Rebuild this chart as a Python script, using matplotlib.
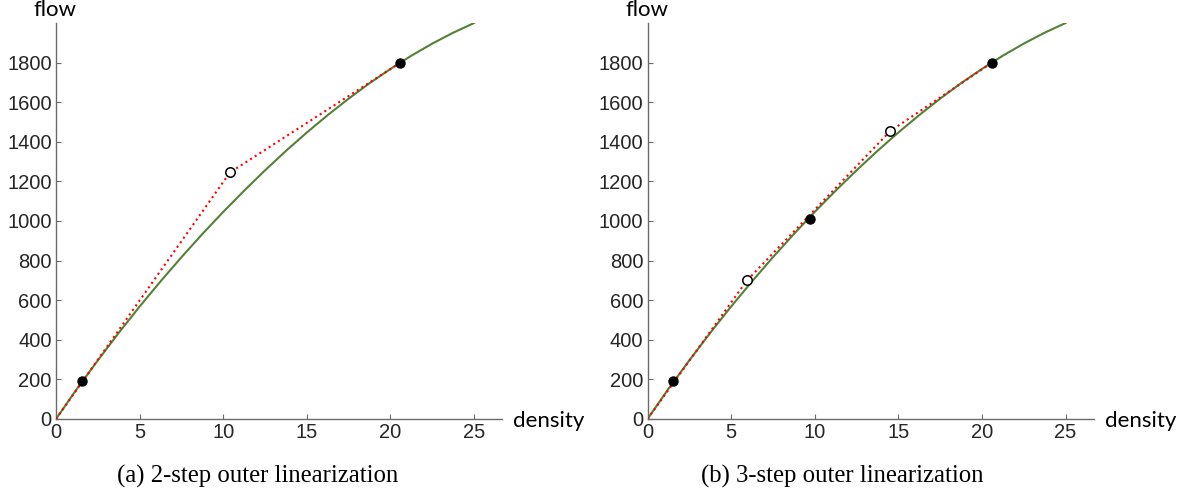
import numpy as np
import matplotlib
matplotlib.use("Agg")
import matplotlib.pyplot as plt

plt.rcParams['font.family'] = ['Liberation Sans', 'DejaVu Sans']

# flow-density curve
density = [0, 1.25, 2.5, 3.75, 5, 6.25, 7.5, 8.75, 10, 11.25, 12.5, 13.75,
           15, 16.25, 17.5, 18.75, 20, 21.25, 22.5, 23.75, 25]
flow = [0, 152, 296, 435, 568, 695, 817, 934, 1046, 1153, 1256, 1354,
        1447, 1535, 1618, 1696, 1768, 1835, 1896, 1951, 2000]

# (a) 2-step outer linearization
lin_a_x = [0, 10.4, 20.6]
lin_a_y = [0, 1245, 1800]
tan_a_x = [1.55, 20.6]
tan_a_y = [193, 1800]
cut_a_x = [10.4]
cut_a_y = [1245]

# (b) 3-step outer linearization
lin_b_x = [0, 5.95, 14.5, 20.6]
lin_b_y = [0, 700, 1453, 1800]
tan_b_x = [1.55, 9.7, 20.6]
tan_b_y = [193, 1011, 1800]
cut_b_x = [5.95, 14.5]
cut_b_y = [700, 1453]

captions = ["(a) 2-step outer linearization", "(b) 3-step outer linearization"]

W, H = 1193, 497
fig = plt.figure(figsize=(W/100, H/100), dpi=100)

panels = [
    (56, lin_a_x, lin_a_y, tan_a_x, tan_a_y, cut_a_x, cut_a_y, 258),
    (647.5, lin_b_x, lin_b_y, tan_b_x, tan_b_y, cut_b_x, cut_b_y, 842),
]
ax_w = 446
for i, (x0, lx, ly, tx, ty, cx, cy, capx) in enumerate(panels):
    ax = fig.add_axes([x0/W, 1-419/H, ax_w/W, (419-23)/H])
    ax.plot(density, flow, color='#538135', lw=1.5, zorder=2)
    ax.plot(lx, ly, color='red', ls=':', lw=1.5, zorder=3)
    ax.plot(tx, ty, 'o', color='black', ms=6.5, zorder=4)
    ax.plot(cx, cy, 'o', mfc='white', mec='black', mew=1.1, ms=6.8, zorder=4)
    ax.set_xlim(0, 26.67)
    ax.set_ylim(0, 2000)
    ax.set_xticks(np.arange(0, 26, 5))
    ax.set_yticks(np.arange(0, 1801, 200))
    for s in ['top', 'right']:
        ax.spines[s].set_visible(False)
    for s in ['left', 'bottom']:
        ax.spines[s].set_color('#6b6b6b')
        ax.spines[s].set_linewidth(1.0)
    ax.tick_params(direction='in', length=3.5, width=0.8, color='#6b6b6b',
                   labelsize=14.5, labelcolor='#262626', pad=3)
    fig.text((x0 - 1)/W, 1-16/H, 'flow', fontsize=16, family='Lato',
             ha='center', va='baseline')
    fig.text((x0 + ax_w + 11)/W, 1-427/H, 'density', fontsize=16,
             family='Lato', ha='left', va='baseline')
    fig.text(capx/W, 1-476/H, captions[i], fontsize=17.8,
             family='Liberation Serif', ha='center', va='center')

fig.savefig('out.png', dpi=100)
